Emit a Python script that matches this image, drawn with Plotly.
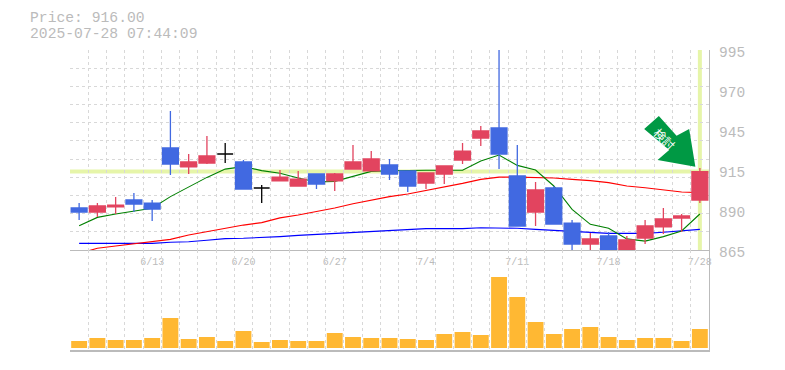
import plotly.graph_objects as go

n = 35
indices = list(range(n))
tick_idx = [4, 9, 14, 19, 24, 29, 34]
tick_text = ["6/13", "6/20", "6/27", "7/4", "7/11", "7/18", "7/28"]

kinds = ["b","r","r","b","b","b","r","r","k","b","k","r","r","b","r","r","r","b","b","r","r","r","r","b","b","r","b","b","r","b","r","r","r","r","r"]
body_top = [892.3,893.6,894.2,897.5,895.5,931.3,922.2,926.1,927.4,922.2,905.3,912.4,911.1,914.4,914.4,922.2,924.2,920.3,916.4,915.1,919.6,929.3,942.4,944.3,913.1,904.0,905.3,882.5,872.2,874.1,871.5,880.6,885.2,887.1,916.0]
body_bot = [889.7,889.7,893.0,894.9,891.6,920.9,919.0,921.5,927.4,904.6,905.3,909.9,906.6,907.9,909.9,917.6,916.4,914.4,906.6,908.5,914.4,923.5,937.8,927.4,880.6,889.7,881.9,868.9,868.9,862.8,862.8,872.8,880.0,885.8,897.5]
highs = [895.5,895.5,899.5,902.0,897.5,955.3,927.4,939.1,934.5,923.5,907.2,917.0,916.4,914.4,915.1,933.3,929.3,924.2,916.4,915.1,919.6,934.5,945.6,995.0,933.3,909.2,906.6,884.5,876.1,876.7,874.1,884.5,892.3,888.4,918.3]
lows = [884.5,886.4,888.4,889.7,883.8,913.8,914.4,920.9,921.5,904.6,895.5,909.9,906.6,904.6,903.4,917.6,916.4,910.5,902.7,904.6,907.9,920.9,932.6,917.6,880.6,880.6,881.9,860.0,860.0,860.0,860.0,868.9,875.4,876.7,895.5]
ma_green = [880.8,886.2,888.4,890.4,892.1,899.7,906.2,912.2,917.6,919.2,916.6,914.9,911.8,909.2,909.6,913.1,916.1,916.5,916.8,916.8,916.8,916.8,922.8,926.7,920.0,917.0,906.6,891.4,881.7,879.1,872.2,870.8,873.7,877.4,888.4]
ma_red = [862.8,866.1,867.6,868.9,870.2,871.9,874.7,876.9,878.9,881.2,882.8,885.9,887.8,890.1,892.3,895.1,897.5,899.7,901.4,903.6,906.2,908.3,910.9,912.4,912.4,912.2,911.8,910.9,910.1,908.8,906.6,905.5,904.0,902.7,902.3]
ma_blue = [869.3,869.3,869.3,869.3,869.3,870.0,870.4,871.3,872.4,872.6,873.0,873.7,874.5,875.2,875.6,876.5,876.9,877.8,878.4,878.9,878.9,878.9,879.5,879.5,879.1,878.4,877.8,876.9,876.2,875.8,875.8,875.8,876.5,877.4,878.4]
volume = [21,30,24,24,30,90,27,33,21,51,18,24,21,21,45,33,30,30,27,24,42,48,39,213,153,78,42,57,63,33,24,30,30,21,57]
last_price = 916.0
y_tickvals = [865, 891, 917, 943, 969, 995]
y_ticktext = ["865", "890", "915", "945", "970", "995"]

GRID = "#d8d8d8"
GREY = "#bbbbbb"
HILITE = "#e6f5a9"
MONO = "Liberation Mono"

fig = go.Figure()

for name, vals, color in [("MA long", ma_blue, "#0000ff"), ("MA mid", ma_red, "#ff0000"), ("MA short", ma_green, "#008000")]:
    fig.add_trace(go.Scatter(x=indices, y=vals, mode="lines", name=name, cliponaxis=False,
                             line=dict(color=color, width=1.1), xaxis="x", yaxis="y"))

def pick(vals, kind):
    return [v if k == kind else None for v, k in zip(vals, kinds)]

for kind, color in [("r", "#e2445f"), ("b", "#4169e1"), ("k", "#000000")]:
    style = dict(line=dict(color=color, width=1.3), fillcolor=color)
    fig.add_trace(go.Candlestick(
        x=indices, open=pick(body_bot, kind), high=pick(highs, kind),
        low=pick(lows, kind), close=pick(body_top, kind),
        increasing=style, decreasing=style, whiskerwidth=0,
        xaxis="x", yaxis="y3", showlegend=False))

fig.add_trace(go.Bar(x=indices, y=volume, marker=dict(color="#ffb833", line=dict(width=0)),
                     xaxis="x2", yaxis="y2", showlegend=False))

grid_minor_x = dict(showgrid=True, gridcolor=GRID, griddash="3px,3px", gridwidth=1,
                    tick0=-0.5, dtick=1, ticklen=0)
price_range = [865, 995]

y_labels = [
    dict(text=t, xref="paper", yref="y", x=1, y=v, xshift=8, yshift=-3, xanchor="left", yanchor="middle",
         showarrow=False, font=dict(family=MONO, size=14.5, color=GREY))
    for v, t in zip(y_tickvals, y_ticktext)
]

fig.update_layout(
    width=785, height=370, autosize=False,
    margin=dict(l=70, r=76, t=50, b=20, pad=0),
    paper_bgcolor="white", plot_bgcolor="white",
    showlegend=False, boxgap=0.13, boxgroupgap=0, boxmode="overlay", bargap=0.13,
    font=dict(family=MONO, color=GREY),
    xaxis=dict(domain=[0, 1], range=[-0.5, 34.5], anchor="y", tickmode="array",
               tickvals=tick_idx, ticktext=tick_text, showgrid=False, zeroline=False,
               tickfont=dict(family=MONO, size=10, color=GREY), ticks="", showline=True,
               linecolor=GREY, linewidth=1, rangeslider=dict(visible=False), minor=grid_minor_x,
               ticklabelstandoff=2),
    xaxis2=dict(domain=[0, 1], range=[-0.5, 34.5], anchor="y2", matches="x", showticklabels=False,
                showgrid=False, zeroline=False, showline=True, linecolor=GREY, linewidth=2,
                ticks="", minor=grid_minor_x),
    yaxis=dict(domain=[1/3, 1], range=price_range, side="right", anchor="x", tickmode="array",
               tickvals=y_tickvals, showticklabels=False, showgrid=False, zeroline=False,
               showline=True, linecolor=GREY, linewidth=1, ticks="",
               minor=dict(showgrid=True, gridcolor=GRID, griddash="3px,3px", gridwidth=1,
                          tick0=865, dtick=130/11, ticklen=0)),
    yaxis3=dict(range=price_range, overlaying="y", side="right", anchor="x", visible=False, showgrid=False),
    yaxis2=dict(domain=[0, 1/3], range=[-6, 294], side="right", anchor="x2", showticklabels=False,
                showgrid=False, zeroline=False, showline=True, linecolor=GREY, linewidth=1, ticks=""),
    shapes=[
        dict(type="line", xref="x domain", yref="y", x0=0, x1=1, y0=last_price, y1=last_price,
             line=dict(color=HILITE, width=4), layer="below"),
        dict(type="line", xref="x", yref="y domain", x0=n-1, x1=n-1, y0=0, y1=1,
             line=dict(color=HILITE, width=4), layer="below"),
        dict(type="path", xref="x", yref="y3", xsizemode="pixel", ysizemode="pixel",
             xanchor=n-1, yanchor=last_price, fillcolor="#009944", line=dict(width=0), layer="above",
             path="M-4.5,4.8 L-42.3,11.5 L-30.7,21.5 L-55.7,42.5 L-41,55.5 L-23.3,35.8 L-10.7,42.5 Z"),
    ],
    annotations=[
        dict(text="Price: 916.00", xref="paper", yref="paper", x=-42/639, y=(350-18)/300,
             xanchor="left", yanchor="middle", showarrow=False, font=dict(family=MONO, size=14.7, color=GREY)),
        dict(text="2025-07-28 07:44:09", xref="paper", yref="paper", x=-42/639, y=(350-34)/300,
             xanchor="left", yanchor="middle", showarrow=False, font=dict(family=MONO, size=14.7, color=GREY)),
        dict(text="検討", xref="x", yref="y", x=n-1, y=last_price, xshift=-35, yshift=33, textangle=45,
             showarrow=False, font=dict(family="Noto Sans CJK JP", size=12, color="white")),
    ] + y_labels,
)

fig.write_html("out.html", post_script="document.body.style.margin='0';",
               config=dict(displayModeBar=False))
